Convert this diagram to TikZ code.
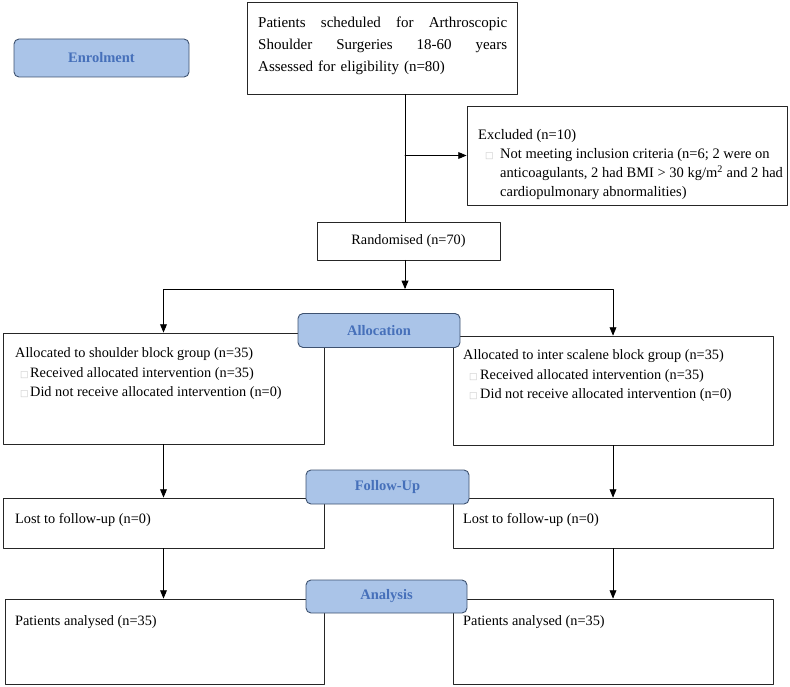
\documentclass[tikz,border=0pt]{standalone}
\usepackage{fontspec}
\setmainfont{Liberation Serif}
\newfontfamily\symfont{DejaVu Sans}
\usepackage{tikz}
\usetikzlibrary{arrows}
\definecolor{lblfill}{RGB}{170,196,232}
\definecolor{lbldraw}{RGB}{62,82,112}
\definecolor{lbltext}{RGB}{70,112,186}
\definecolor{sqgray}{RGB}{200,200,200}
\newcommand{\sq}{{\color{sqgray}\symfont\fontsize{9}{9}\selectfont □}}
\tikzstyle{every node}=[font=\fontsize{14.3}{19.5}\selectfont]

\begin{document}
\begin{tikzpicture}[x=1pt,y=-1pt,line cap=round,line join=round,>=triangle 45,
  frame/.style={draw=black!85,line width=0.9pt,inner sep=0pt},
  txt/.style={anchor=north west,inner sep=0pt,align=left},
  stage/.style={draw=lbldraw,line width=0.9pt,fill=lblfill,rounded corners=5pt,text=lbltext,
    font=\fontsize{14.5}{16}\selectfont\bfseries,inner sep=0pt}]
\useasboundingbox (0,0) rectangle (790,687);
% frames
\node[frame,minimum width=270,minimum height=92] (screen) at (382,48) {};
\node[frame,minimum width=320,minimum height=99] (excl) at (627,155.5) {};
\node[frame,minimum width=183,minimum height=38] (rand) at (408.5,241) {Randomised (n=70)};
\node[frame,minimum width=321,minimum height=111] (allocL) at (163.5,388.5) {};
\node[frame,minimum width=320,minimum height=109] (allocR) at (613,390.5) {};
\node[frame,minimum width=321,minimum height=50] (lostL) at (163.5,523) {};
\node[frame,minimum width=320,minimum height=50] (lostR) at (613,523) {};
\node[frame,minimum width=319,minimum height=85] (anL) at (164.5,641.5) {};
\node[frame,minimum width=320,minimum height=85] (anR) at (613,641.5) {};
% connectors
\coordinate (trunk) at (405,0);
\coordinate (split) at (405,289);
\draw[line width=0.9pt] (screen.south -| trunk) -- (rand.north -| trunk);
\draw[->,line width=0.9pt] (excl.west -| trunk) -- (excl.west);
\draw[->,line width=0.9pt] (rand.south -| trunk) -- (split);
\draw[->,line width=0.9pt] (split) -| (allocL.north);
\draw[->,line width=0.9pt] (split) -| (allocR.north);
\draw[->,line width=0.9pt] (allocL.south) -- (lostL.north);
\draw[->,line width=0.9pt] (allocR.south) -- (lostR.north);
\draw[->,line width=0.9pt] (lostL.south) -- (lostL.south |- anL.north);
\draw[->,line width=0.9pt] (lostR.south) -- (anR.north);
% texts
\node[txt,text width=249,font=\fontsize{15}{22}\selectfont] (screenT) at (258,17)
  {Patients\hfill scheduled\hfill for\hfill Arthroscopic\\
   Shoulder\hfill Surgeries\hfill 18-60\hfill years\\
   Assessed for eligibility (n=80)};
\node[txt,font=\fontsize{14.5}{19}\selectfont] (exclT) at (478,129.5)
  {Excluded (n=10)\\
   \makebox[22pt][l]{\hspace{7pt}\sq}Not meeting inclusion criteria (n=6; 2 were on\\
   \hspace*{22pt}anticoagulants, 2 had BMI > 30 kg/m\textsuperscript{2} and 2 had\\
   \hspace*{22pt}cardiopulmonary abnormalities)};
\node[txt] (allocLT) at (15,347.5)
  {Allocated to shoulder block group (n=35)\\
   \makebox[15pt][l]{\hspace{5pt}\sq}Received allocated intervention (n=35)\\
   \makebox[15pt][l]{\hspace{5pt}\sq}Did not receive allocated intervention (n=0)};
\node[txt] (allocRT) at (463,349.5)
  {Allocated to inter scalene block group (n=35)\\
   \makebox[17pt][l]{\hspace{6pt}\sq}Received allocated intervention (n=35)\\
   \makebox[17pt][l]{\hspace{6pt}\sq}Did not receive allocated intervention (n=0)};
\node[txt] (lostLT) at (15,513.5) {Lost to follow-up (n=0)};
\node[txt] (lostRT) at (463,513.5) {Lost to follow-up (n=0)};
\node[txt] (anLT) at (15,615.5) {Patients analysed (n=35)};
\node[txt] (anRT) at (463,615.5) {Patients analysed (n=35)};
% stage labels
\node[stage,minimum width=175,minimum height=38] (enrol) at (101.5,58) {Enrolment};
\node[stage,minimum width=162,minimum height=34] (alloc) at (379,330.5) {Allocation};
\node[stage,minimum width=163,minimum height=34] (follow) at (387.5,487) {Follow-Up};
\node[stage,minimum width=161,minimum height=33] (analysis) at (386.5,596.5) {Analysis};
\end{tikzpicture}
\end{document}
